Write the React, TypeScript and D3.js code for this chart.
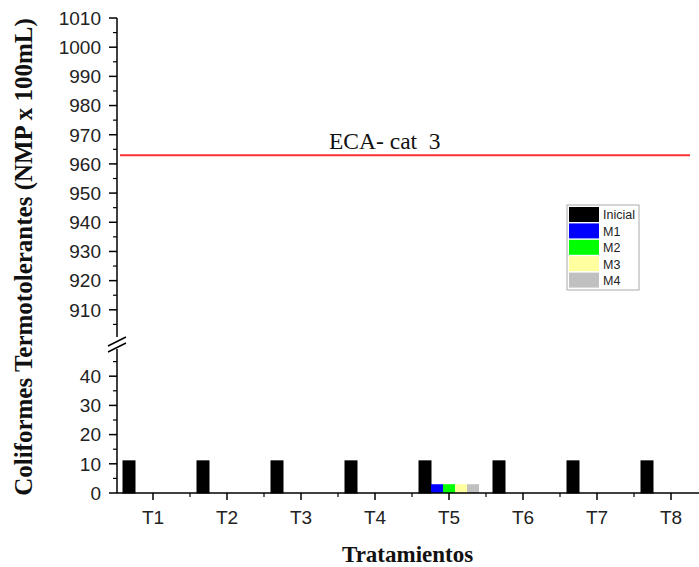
import React from "react";
import * as d3 from "d3";

const categories = ["T1", "T2", "T3", "T4", "T5", "T6", "T7", "T8"];
const seriesNames = ["Inicial", "M1", "M2", "M3", "M4"];
const seriesColors = ["#000000", "#0000ff", "#00ff00", "#ffffa0", "#c0c0c0"];
const inicial = [11, 11, 11, 11, 11, 11, 11, 11];
const m1 = [0, 0, 0, 0, 3, 0, 0, 0];
const m2 = [0, 0, 0, 0, 3, 0, 0, 0];
const m3 = [0, 0, 0, 0, 3, 0, 0, 0];
const m4 = [0, 0, 0, 0, 3, 0, 0, 0];
const seriesValues = [inicial, m1, m2, m3, m4];
const upperTicks = [910, 920, 930, 940, 950, 960, 970, 980, 990, 1000, 1010];
const lowerTicks = [0, 10, 20, 30, 40];
const ecaLimit = 963;
const ecaLabel = "ECA- cat  3";

const W = 699;
const H = 567;
const axisX = 117;
const axisY = 493;

export default function App() {
  const x = d3.scaleLinear().domain([0.5, 8.5]).range([axisX - 1, axisX - 1 + 8 * 74]);
  const inner = d3.scaleBand<string>().domain(seriesNames).range([-30, 30]);
  const yLow = d3.scaleLinear().domain([0, 50]).range([axisY, 347]);
  const yHigh = d3.scaleLinear().domain([900, 1010]).range([339, 18]);

  const lowMinor = d3.range(5, 50, 10);
  const highMinor = d3.range(905, 1010, 10);
  const xMinor = d3.range(1.5, 8.5, 1);

  const tickFont = "Arial, 'Liberation Sans', sans-serif";
  const serif = "'Times New Roman', 'Liberation Serif', serif";

  return (
    <svg width={W} height={H} style={{ position: "absolute", left: 0, top: 0, background: "#fff" }}>
      {/* bars */}
      {categories.map((c, i) =>
        seriesNames.map((s, k) => {
          const v = seriesValues[k][i];
          if (v <= 0) return null;
          const bx = x(i + 1) + (inner(s) as number);
          return (
            <rect
              key={c + s}
              x={bx}
              y={yLow(v)}
              width={inner.bandwidth()}
              height={yLow(0) - yLow(v)}
              fill={seriesColors[k]}
              stroke={k === 0 ? "#000" : "none"}
              strokeWidth={1}
            />
          );
        })
      )}

      {/* ECA limit line */}
      <line x1={120} x2={690} y1={yHigh(ecaLimit)} y2={yHigh(ecaLimit)} stroke="#ff3030" strokeWidth={2} />
      <text
        x={329}
        y={yHigh(ecaLimit) - 6}
        fontFamily={serif}
        fontSize={23.5}
        fill="#111"
        style={{ whiteSpace: "pre" }}
        xmlSpace="preserve"
      >
        {ecaLabel}
      </text>

      {/* y axis, upper segment */}
      <line x1={axisX} x2={axisX} y1={yHigh(1010)} y2={yHigh(900) - 2} stroke="#000" strokeWidth={1.5} />
      {upperTicks.map((t) => (
        <g key={"u" + t}>
          <line x1={axisX - 8} x2={axisX} y1={yHigh(t)} y2={yHigh(t)} stroke="#000" strokeWidth={1.5} />
          <text x={axisX - 16} y={yHigh(t)} dy="0.36em" textAnchor="end" fontFamily={tickFont} fontSize={19} fill="#222">
            {t}
          </text>
        </g>
      ))}
      {highMinor.map((t) => (
        <line key={"um" + t} x1={axisX - 4} x2={axisX} y1={yHigh(t)} y2={yHigh(t)} stroke="#000" strokeWidth={1.2} />
      ))}

      {/* y axis, lower segment */}
      <line x1={axisX} x2={axisX} y1={yLow(50) + 2} y2={axisY} stroke="#000" strokeWidth={1.5} />
      {lowerTicks.map((t) => (
        <g key={"l" + t}>
          <line x1={axisX - 8} x2={axisX} y1={yLow(t)} y2={yLow(t)} stroke="#000" strokeWidth={1.5} />
          <text x={axisX - 16} y={yLow(t)} dy="0.36em" textAnchor="end" fontFamily={tickFont} fontSize={19} fill="#222">
            {t}
          </text>
        </g>
      ))}
      {lowMinor.map((t) => (
        <line key={"lm" + t} x1={axisX - 4} x2={axisX} y1={yLow(t)} y2={yLow(t)} stroke="#000" strokeWidth={1.2} />
      ))}

      {/* axis break marks */}
      <line x1={108} x2={126} y1={346} y2={337} stroke="#000" strokeWidth={1.5} />
      <line x1={108} x2={126} y1={352} y2={343} stroke="#000" strokeWidth={1.5} />

      {/* x axis */}
      <line x1={axisX} x2={W} y1={axisY} y2={axisY} stroke="#000" strokeWidth={1.5} />
      {categories.map((c, i) => (
        <g key={"x" + c}>
          <line x1={x(i + 1)} x2={x(i + 1)} y1={axisY} y2={axisY + 7} stroke="#000" strokeWidth={1.5} />
          <text x={x(i + 1)} y={524} textAnchor="middle" fontFamily={tickFont} fontSize={19} fill="#222">
            {c}
          </text>
        </g>
      ))}
      {xMinor.map((t) => (
        <line key={"xm" + t} x1={x(t)} x2={x(t)} y1={axisY} y2={axisY + 4} stroke="#000" strokeWidth={1.2} />
      ))}

      {/* axis titles */}
      <text x={342} y={562} fontFamily={serif} fontWeight="bold" fontSize={23} fill="#111">
        Tratamientos
      </text>
      <text
        transform={`translate(32, 257) rotate(-90)`}
        textAnchor="middle"
        fontFamily={serif}
        fontWeight="bold"
        fontSize={25}
        fill="#111"
      >
        Coliformes Termotolerantes (NMP x 100mL)
      </text>

      {/* legend */}
      <g transform="translate(567, 205)">
        <rect x={0} y={0} width={72} height={85} fill="#fff" stroke="#aaa" strokeWidth={1} />
        {seriesNames.map((s, k) => (
          <g key={"lg" + s} transform={`translate(2, ${2 + k * 16.4})`}>
            <rect x={0} y={0} width={30} height={15} fill={seriesColors[k]} />
            <text x={34} y={8} dy="0.35em" fontFamily={tickFont} fontSize={12.5} fill="#222">
              {s}
            </text>
          </g>
        ))}
      </g>
    </svg>
  );
}
